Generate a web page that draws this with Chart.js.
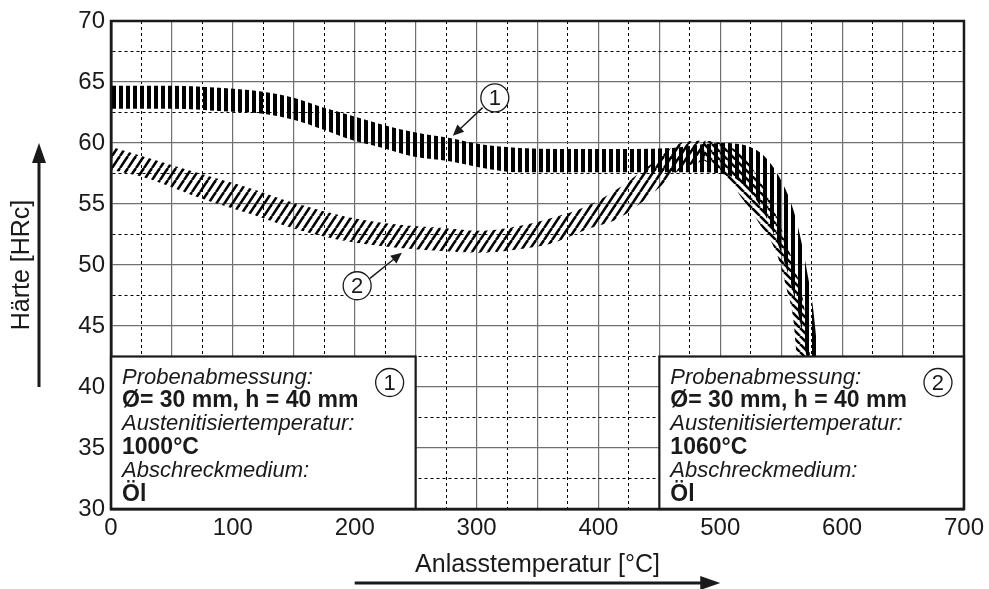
<!DOCTYPE html>
<html>
<head>
<meta charset="utf-8">
<script src="https://cdn.jsdelivr.net/npm/chart.js@4.4.1/dist/chart.umd.min.js"></script>
<style>
  html, body { margin: 0; padding: 0; background: #fff; }
</style>
</head>
<body>
<canvas id="chart" width="989" height="589"></canvas>
<script>
// Chart defaults
Chart.defaults.font.family = '"Liberation Sans", Arial, sans-serif';
Chart.defaults.color = '#1a1a1a';

// Band 1 (vertical hatching) - upper and lower edge
// (both edges end at the same temperature, below the info box, so the fill is not clipped)
const band1TopX = [0, 50, 92, 125, 150, 174, 199, 223, 248, 278, 303, 335, 400, 460, 500, 530, 543, 554, 560, 565, 571, 576, 580, 584];
const band1TopY = [64.7, 64.7, 64.5, 64.2, 63.7, 62.9, 62.2, 61.5, 60.9, 60.4, 59.9, 59.6, 59.5, 59.6, 60.0, 59.4, 58.1, 56.1, 54.5, 52.6, 49.6, 46.6, 42.8, 39];
const band1BotX = [0, 50, 92, 125, 150, 174, 199, 223, 248, 278, 303, 335, 400, 480, 505, 520, 533, 545, 555, 563, 569, 584];
const band1BotY = [62.8, 62.8, 62.6, 62.4, 61.9, 61.1, 60.2, 59.6, 58.9, 58.5, 58.0, 57.6, 57.6, 57.6, 57.4, 56.5, 54.8, 52.3, 49.5, 46.5, 43.5, 34];

// Band 2 rising part (/ hatching)
const band2UpX   = [0, 30, 73, 114, 150, 196, 237, 278, 303, 335, 363, 390, 418, 445, 467, 488];
const band2UpTop = [59.7, 58.8, 57.5, 56.3, 55.1, 53.9, 53.3, 53.0, 52.8, 53.2, 53.9, 54.8, 56.4, 58.4, 60.0, 60.2];
const band2UpBot = [57.8, 57.1, 55.5, 54.2, 53.0, 51.9, 51.4, 51.1, 51.0, 51.3, 51.8, 52.9, 53.9, 55.9, 57.8, 58.6];

// Band 2 falling part (\ hatching)
const band2DownTopX = [486, 500, 519, 532, 543, 551.5, 560, 568, 573.4, 577];
const band2DownTopY = [60.2, 60.0, 58.9, 57.0, 54.8, 52.6, 50.1, 47.1, 42.8, 39];
const band2DownBotX = [486, 500, 519, 532, 546, 554, 560, 562.5, 577];
const band2DownBotY = [58.6, 57.8, 55.3, 53.4, 51.0, 48.2, 45.5, 42.8, 32];

// Tick labels
const xLabelValues = [0, 100, 200, 300, 400, 500, 600, 700];
const yLabelValues = [30, 35, 40, 45, 50, 55, 60, 65, 70];

// Info boxes (x from, x to, y from, y to) and their text
const boxX0 = [0, 450];
const boxX1 = [250, 700];
const boxY0 = [30, 30];
const boxY1 = [42.5, 42.5];
const boxNo = ['1', '2'];
const box1Lines = ['Probenabmessung:', '\u00D8= 30 mm, h = 40 mm', 'Austenitisiertemperatur:', '1000\u00B0C', 'Abschreckmedium:', '\u00D6l'];
const box2Lines = ['Probenabmessung:', '\u00D8= 30 mm, h = 40 mm', 'Austenitisiertemperatur:', '1060\u00B0C', 'Abschreckmedium:', '\u00D6l'];

// Curve markers with arrows
const markNo = ['1', '2'];
const markX = [315, 202];
const markY = [63.7, 48.3];
const arrowFromX = [305, 212.5];
const arrowFromY = [62.9, 48.9];
const arrowToX = [280.5, 238.7];
const arrowToY = [60.6, 51.0];

const pts = (xs, ys) => xs.map((x, i) => ({ x: x, y: ys[i] }));

// Hatch patterns
function hatch(kind) {
    const c = document.createElement('canvas');
    const g = c.getContext('2d');
    if (kind === 'v') {
        c.width = 7; c.height = 4;
        g.fillStyle = '#000';
        g.fillRect(0, 0, 4, 4);
    } else {
        const w = 8, h = kind === 'up' ? 12 : 8;
        c.width = w; c.height = h;
        g.strokeStyle = '#000';
        g.lineWidth = 2.6;
        for (let k = -1; k <= 1; k++) {
            g.beginPath();
            if (kind === 'up') { g.moveTo(k * w, h); g.lineTo((k + 1) * w, 0); }
            else { g.moveTo(k * w, 0); g.lineTo((k + 1) * w, h); }
            g.stroke();
        }
    }
    return g.createPattern(c, 'repeat');
}

function arrow(ctx, x1, y1, x2, y2, len, half, width) {
    const ang = Math.atan2(y2 - y1, x2 - x1);
    ctx.lineWidth = width;
    ctx.beginPath();
    ctx.moveTo(x1, y1);
    ctx.lineTo(x2 - Math.cos(ang) * len * 0.8, y2 - Math.sin(ang) * len * 0.8);
    ctx.stroke();
    ctx.beginPath();
    ctx.moveTo(x2, y2);
    ctx.lineTo(x2 - Math.cos(ang) * len - Math.sin(ang) * half, y2 - Math.sin(ang) * len + Math.cos(ang) * half);
    ctx.lineTo(x2 - Math.cos(ang) * len + Math.sin(ang) * half, y2 - Math.sin(ang) * len - Math.cos(ang) * half);
    ctx.closePath();
    ctx.fill();
}

function circled(ctx, cx, cy, txt) {
    ctx.beginPath();
    ctx.arc(cx, cy, 14, 0, Math.PI * 2);
    ctx.fillStyle = '#fff';
    ctx.fill();
    ctx.lineWidth = 1.3;
    ctx.strokeStyle = '#1a1a1a';
    ctx.stroke();
    ctx.fillStyle = '#1a1a1a';
    ctx.font = '22px "Liberation Sans", Arial, sans-serif';
    ctx.textAlign = 'center';
    ctx.textBaseline = 'middle';
    ctx.fillText(txt, cx, cy + 1);
}

// Boxes, markers, frame and axis arrows
const overlay = {
    id: 'overlay',
    afterDatasetsDraw(chart) {
        const { ctx, scales: { x, y } } = chart;
        ctx.save();
        [box1Lines, box2Lines].forEach((lines, b) => {
            const l = x.getPixelForValue(boxX0[b]), r = x.getPixelForValue(boxX1[b]);
            const t = y.getPixelForValue(boxY1[b]), btm = y.getPixelForValue(boxY0[b]);
            ctx.fillStyle = '#fff';
            ctx.fillRect(l, t, r - l, btm - t);
            ctx.lineWidth = 2.2;
            ctx.strokeStyle = '#1a1a1a';
            ctx.strokeRect(l, t, r - l, btm - t);
            ctx.fillStyle = '#1a1a1a';
            ctx.textAlign = 'left';
            ctx.textBaseline = 'alphabetic';
            lines.forEach((s, i) => {
                ctx.font = (i % 2 === 0 ? 'italic 22px' : 'bold 23px') + ' "Liberation Sans", Arial, sans-serif';
                ctx.fillText(s, l + 11, t + 27 + i * 23.4);
            });
            circled(ctx, r - 26, t + 26, boxNo[b]);
        });
        markNo.forEach((n, i) => {
            ctx.strokeStyle = '#1a1a1a';
            ctx.fillStyle = '#1a1a1a';
            arrow(ctx, x.getPixelForValue(arrowFromX[i]), y.getPixelForValue(arrowFromY[i]),
                x.getPixelForValue(arrowToX[i]), y.getPixelForValue(arrowToY[i]), 11, 5, 1.4);
            circled(ctx, x.getPixelForValue(markX[i]), y.getPixelForValue(markY[i]), n);
        });
        ctx.restore();
    },
    afterDraw(chart) {
        const { ctx, chartArea: a, scales: { x, y } } = chart;
        ctx.save();
        ctx.lineWidth = 2.5;
        ctx.strokeStyle = '#1a1a1a';
        ctx.strokeRect(a.left, a.top, a.right - a.left, a.bottom - a.top);
        ctx.fillStyle = '#1a1a1a';
        // axis direction arrows
        arrow(ctx, 39, y.getPixelForValue(40), 39, y.getPixelForValue(60), 20, 7, 3);
        arrow(ctx, x.getPixelForValue(200), 583, x.getPixelForValue(500), 583, 20, 7, 3);
        ctx.restore();
    }
};

const solidGrid = '#707070';

new Chart(document.getElementById('chart'), {
    type: 'line',
    data: {
        datasets: [
            { data: pts(band1TopX, band1TopY), fill: '+1', backgroundColor: hatch('v') },
            { data: pts(band1BotX, band1BotY), fill: false },
            { data: pts(band2UpX, band2UpTop), fill: '+1', backgroundColor: hatch('up') },
            { data: pts(band2UpX, band2UpBot), fill: false },
            { data: pts(band2DownTopX, band2DownTopY), fill: '+1', backgroundColor: hatch('down') },
            { data: pts(band2DownBotX, band2DownBotY), fill: false }
        ]
    },
    options: {
        responsive: false,
        animation: false,
        devicePixelRatio: 1,
        layout: { padding: { left: 0, top: 21, right: 25, bottom: 0 } },
        elements: {
            line: { borderWidth: 0, borderColor: 'rgba(0,0,0,0)', cubicInterpolationMode: 'monotone' },
            point: { radius: 0 }
        },
        plugins: { legend: { display: false }, tooltip: { enabled: false } },
        scales: {
            x: {
                type: 'linear', min: 0, max: 700,
                afterFit: s => { s.height = 80; },
                ticks: {
                    stepSize: 25, autoSkip: false, maxRotation: 0, padding: 5,
                    font: { size: 24 }, color: '#1a1a1a',
                    callback: v => xLabelValues.includes(v) ? String(v) : ''
                },
                grid: {
                    drawTicks: false,
                    color: c => (c.tick && c.tick.value % 50 === 0) ? solidGrid : '#000',
                    lineWidth: c => (c.tick && c.tick.value % 50 === 0) ? 1.2 : 1
                },
                border: {
                    color: '#1a1a1a', width: 2.5,
                    dash: c => (c.tick && c.tick.value % 50 !== 0) ? [3, 3] : []
                },
                title: {
                    display: true, text: 'Anlasstemperatur [\u00B0C]', color: '#1a1a1a',
                    font: { size: 25 }, padding: { top: 0, bottom: 9 }
                }
            },
            y: {
                min: 30, max: 70,
                afterFit: s => { s.width = 111; },
                ticks: {
                    stepSize: 2.5, autoSkip: false, padding: 6,
                    font: { size: 24 }, color: '#1a1a1a',
                    callback: v => yLabelValues.includes(v) ? String(v) : ''
                },
                grid: {
                    drawTicks: false,
                    color: c => (c.tick && c.tick.value % 5 === 0) ? solidGrid : '#000',
                    lineWidth: c => (c.tick && c.tick.value % 5 === 0) ? 1.2 : 1
                },
                border: {
                    color: '#1a1a1a', width: 2.5,
                    dash: c => (c.tick && c.tick.value % 5 !== 0) ? [3, 3] : []
                },
                title: {
                    display: true, text: 'H\u00E4rte [HRc]', color: '#1a1a1a',
                    font: { size: 25 }, padding: { top: 7, bottom: 0 }
                }
            }
        }
    },
    plugins: [overlay]
});
</script>
</body>
</html>
